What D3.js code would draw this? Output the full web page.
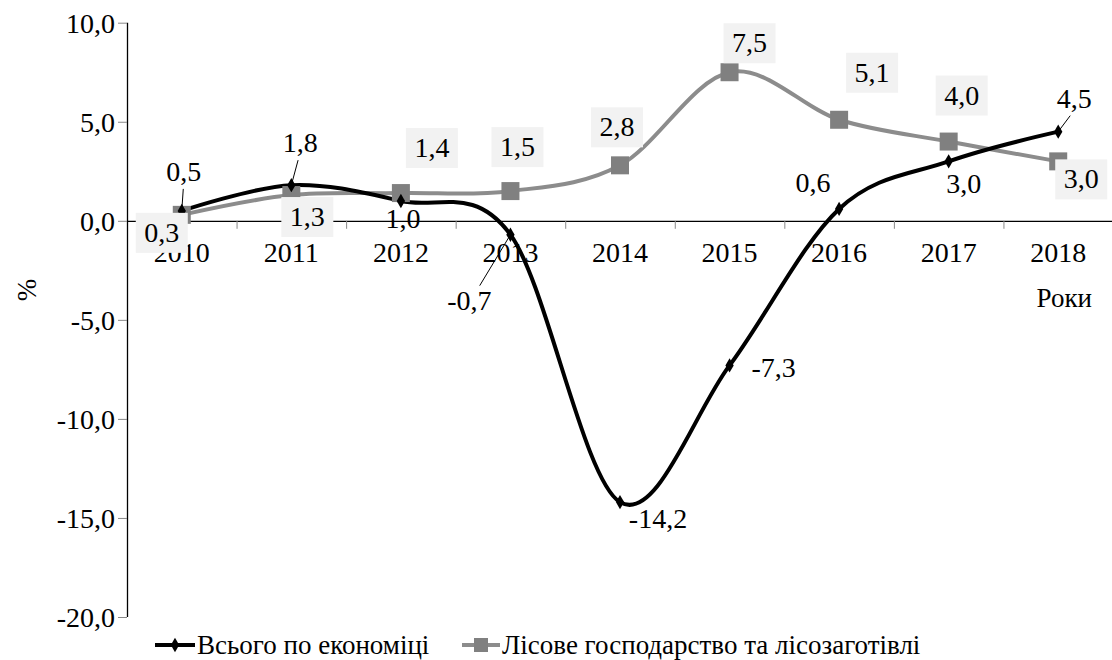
<!DOCTYPE html>
<html>
<head>
<meta charset="utf-8">
<script src="https://cdn.jsdelivr.net/npm/d3@7"></script>
<style>
  body { margin: 0; background: #fff; }
</style>
</head>
<body>
<svg class="chart" width="1112" height="660"></svg>
<script>
// Data
var years = ["2010", "2011", "2012", "2013", "2014", "2015", "2016", "2017", "2018"];
var economy = [0.5, 1.8, 1.0, -0.7, -14.2, -7.3, 0.6, 3.0, 4.5];   // Всього по економіці
var forestry = [0.3, 1.3, 1.4, 1.5, 2.8, 7.5, 5.1, 4.0, 3.0];      // Лісове господарство та лісозаготівлі
var yTicks = [10, 5, 0, -5, -10, -15, -20];

// Label placement (offset from the point, px)
var econLabelPos = [[2, -30], [9, -33], [2, 27], [-41, 75], [38, 26], [44, 12], [-26, -17], [15, 32], [16, -24]];
var econLeader = [true, true, false, true, false, false, false, false, true];
var forLabelPos = [[-20, 18], [16, 22], [31, -45], [7, -44], [-3, -38], [20, -29], [33, -47], [13, -46], [23, 18]];

var fmt = function(v) { return d3.format(".1f")(v).replace(".", ",").replace("−", "-"); };
var serifFont = function() { return "Liberation Serif"; };

var svg = d3.select(".chart");

// Scales
var x = d3.scaleBand()
    .domain(years)
    .range([127, 1113]);
var y = d3.scaleLinear()
    .domain([-20, 10])
    .range([617, 22.7]);
var cx = function(i) { return x(years[i]) + x.bandwidth() / 2; };

// y axis
var yAxis = d3.axisLeft(y)
    .tickValues(yTicks)
    .tickSize(9)
    .tickPadding(4)
    .tickFormat(fmt);
var gy = svg.append("g")
    .attr("class", "y axis")
    .attr("transform", "translate(127,0)")
    .call(yAxis)
    .attr("font-family", null)
    .attr("font-size", null);
gy.select(".domain").attr("stroke", "#000").attr("stroke-width", 1.3).attr("d", "M0.5," + y(10) + "V" + y(-20));
gy.selectAll(".tick line").attr("stroke", "#888");
gy.selectAll(".tick text")
    .attr("fill", "#000")
    .attr("x", -12)
    .attr("dy", "0.35em")
    .style("font-family", serifFont)
    .style("font-size", "28px");

// x axis at zero
var gx = svg.append("g")
    .attr("class", "x axis")
    .attr("transform", "translate(0," + y(0) + ")")
    .call(d3.axisBottom(x).tickSize(0).tickSizeOuter(0))
    .attr("font-family", null)
    .attr("font-size", null);
gx.select(".domain").attr("stroke", "#000").attr("stroke-width", 1.3);
gx.selectAll(".tick text")
    .attr("fill", "#000")
    .attr("y", 41)
    .attr("dy", 0)
    .style("font-family", serifFont)
    .style("font-size", "28px");
// ticks between categories
gx.selectAll(".sep")
    .data(years.slice(1))
    .enter().append("line")
    .attr("class", "sep")
    .attr("x1", function(d) { return x(d) + 0.5; })
    .attr("x2", function(d) { return x(d) + 0.5; })
    .attr("y1", 0)
    .attr("y2", 8)
    .attr("stroke", "#888");

// axis titles
svg.append("text")
    .attr("x", 1092)
    .attr("y", 307)
    .attr("text-anchor", "end")
    .style("font-family", serifFont)
    .style("font-size", "27px")
    .text("Роки");
svg.append("text")
    .attr("transform", "translate(36,290) rotate(-90)")
    .attr("text-anchor", "middle")
    .style("font-family", serifFont)
    .style("font-size", "27px")
    .text("%");

// Lines
var line = d3.line()
    .x(function(d, i) { return cx(i); })
    .y(function(d) { return y(d); })
    .curve(d3.curveCardinal.tension(0));

svg.append("path")
    .datum(forestry)
    .attr("fill", "none")
    .attr("stroke", "#8c8c8c")
    .attr("stroke-width", 4)
    .attr("d", line);

svg.append("path")
    .datum(economy)
    .attr("fill", "none")
    .attr("stroke", "#000")
    .attr("stroke-width", 4)
    .attr("d", line);

// Markers
svg.selectAll(".sq")
    .data(forestry)
    .enter().append("rect")
    .attr("class", "sq")
    .attr("x", function(d, i) { return cx(i) - 9; })
    .attr("y", function(d) { return y(d) - 9; })
    .attr("width", 18)
    .attr("height", 18)
    .attr("fill", "#808080");

var diamond = d3.symbol().type(d3.symbolDiamond).size(60);
svg.selectAll(".dm")
    .data(economy)
    .enter().append("path")
    .attr("class", "dm")
    .attr("transform", function(d, i) { return "translate(" + cx(i) + "," + y(d) + ")"; })
    .attr("d", diamond)
    .attr("fill", "#000");

// Forestry labels (boxed)
var fl = svg.selectAll(".flab")
    .data(forestry)
    .enter().append("g")
    .attr("class", "flab")
    .attr("transform", function(d, i) {
        return "translate(" + (cx(i) + forLabelPos[i][0]) + "," + (y(d) + forLabelPos[i][1]) + ")";
    });
fl.append("rect")
    .attr("x", -26)
    .attr("y", -20)
    .attr("width", 52)
    .attr("height", 40)
    .attr("fill", "#f2f2f2");
fl.append("text")
    .attr("y", 9)
    .attr("text-anchor", "middle")
    .style("font-family", serifFont)
    .style("font-size", "28px")
    .text(function(d) { return fmt(d); });

// Economy labels
svg.selectAll(".elead")
    .data(economy.map(function(d, i) { return i; }).filter(function(i) { return econLeader[i]; }))
    .enter().append("line")
    .attr("class", "elead")
    .attr("x1", function(i) { return cx(i) + econLabelPos[i][0] * 0.75; })
    .attr("y1", function(i) { return y(economy[i]) + econLabelPos[i][1] + (econLabelPos[i][1] < 0 ? 8 : -24); })
    .attr("x2", function(i) { return cx(i); })
    .attr("y2", function(i) { return y(economy[i]); })
    .attr("stroke", "#000")
    .attr("stroke-width", 1);

svg.selectAll(".elab")
    .data(economy)
    .enter().append("text")
    .attr("class", "elab")
    .attr("x", function(d, i) { return cx(i) + econLabelPos[i][0]; })
    .attr("y", function(d, i) { return y(d) + econLabelPos[i][1]; })
    .attr("text-anchor", "middle")
    .style("font-family", serifFont)
    .style("font-size", "28px")
    .text(function(d) { return fmt(d); });

// Legend
var legend = svg.append("g").attr("transform", "translate(0,645)");
legend.append("line").attr("x1", 155).attr("x2", 195).attr("stroke", "#000").attr("stroke-width", 4);
legend.append("path").attr("transform", "translate(175,0)").attr("d", diamond).attr("fill", "#000");
legend.append("text").attr("x", 197).attr("y", 9)
    .style("font-family", serifFont).style("font-size", "27px").text("Всього по економіці");
legend.append("line").attr("x1", 462).attr("x2", 500).attr("stroke", "#8c8c8c").attr("stroke-width", 4);
legend.append("rect").attr("x", 474).attr("y", -7).attr("width", 14).attr("height", 14).attr("fill", "#808080");
legend.append("text").attr("x", 502).attr("y", 9)
    .style("font-family", serifFont).style("font-size", "27px").text("Лісове господарство та лісозаготівлі");
</script>
</body>
</html>
